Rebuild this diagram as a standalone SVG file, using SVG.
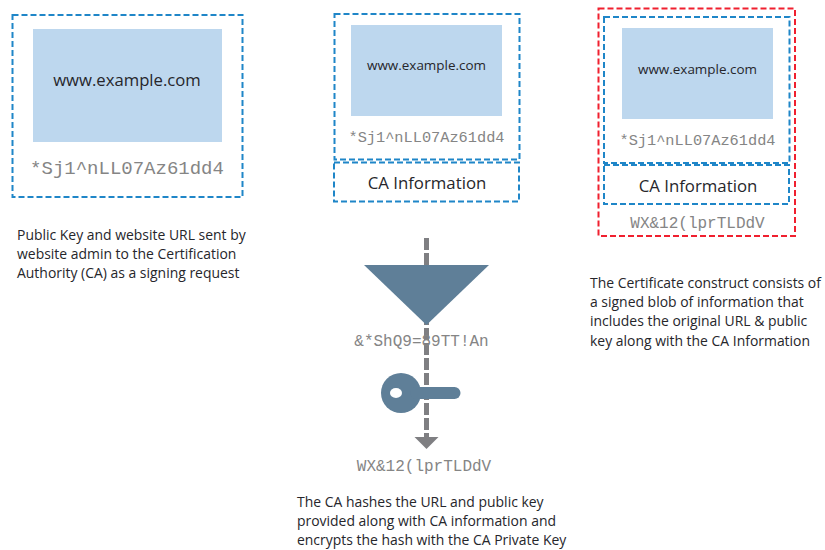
<svg xmlns="http://www.w3.org/2000/svg" width="825" height="550" viewBox="0 0 825 550">
<style>
.b{fill:none;stroke:#1f86c8;stroke-width:2;stroke-dasharray:6 3}
.r{fill:none;stroke:#f0202f;stroke-width:2;stroke-dasharray:6 3}
.f{fill:#bdd7ee}
.s{font-family:"Open Sans","Liberation Sans",sans-serif;fill:#26262b;text-anchor:middle}
.m{font-family:"Liberation Mono",monospace;fill:#858585;text-anchor:middle}
.t{font-family:"Open Sans","Liberation Sans",sans-serif;fill:#26262b;font-size:13.950px}
</style>
<defs><marker id="a" markerUnits="userSpaceOnUse" markerWidth="14" markerHeight="26" refX="1" refY="13" orient="auto"><path d="M0 1L12 13L0 25Z" fill="#7f7f82"/></marker></defs>
<g id="connectors">
<path d="M426.500 238V438" fill="none" stroke="#7f7f82" stroke-width="5" stroke-dasharray="12 3" marker-end="url(#a)"/>
</g>
<g id="request">
<rect class="b" x="12.500" y="15" width="230" height="182"/>
<rect class="f" x="33" y="29" width="189" height="113"/>
<text class="s" x="127" y="86" font-size="16.700">www.example.com</text>
<text class="m" x="127" y="174" font-size="19">*Sj1^nLL07Az61dd4</text>
</g>
<g id="request-label">
<text class="t" x="17" y="240">Public Key and website URL sent by</text>
<text class="t" x="17" y="259">website admin to the Certification</text>
<text class="t" x="17" y="278">Authority (CA) as a signing request</text>
</g>
<g id="signing-block">
<rect class="b" x="334.500" y="14" width="185" height="145.500"/>
<rect class="f" x="351" y="25" width="151" height="91"/>
<text class="s" x="426.500" y="70" font-size="13.450">www.example.com</text>
<text class="m" x="426.500" y="142" font-size="15.300">*Sj1^nLL07Az61dd4</text>
</g>
<g id="signing-ca">
<rect class="b" x="334" y="162.500" width="185" height="39"/>
<text class="s" x="427" y="188.500" font-size="16.800">CA Information</text>
</g>
<g id="hash">
<path d="M364 265H489L426.500 325Z" fill="#5f7f98"/>
<text class="m" x="421.500" y="346" font-size="16">&amp;*ShQ9=89TT!An</text>
</g>
<g id="key">
<circle cx="401" cy="393" r="20" fill="#5f7f98"/>
<ellipse cx="396" cy="393" rx="6" ry="5" fill="#fff"/>
<rect x="410" y="387" width="50.500" height="12" rx="6" fill="#5f7f98"/>
</g>
<g id="encrypted">
<text class="m" x="424" y="471" font-size="16">WX&amp;12(lprTLDdV</text>
</g>
<g id="hash-label">
<text class="t" x="297" y="507">The CA hashes the URL and public key</text>
<text class="t" x="297" y="526">provided along with CA information and</text>
<text class="t" x="297" y="545">encrypts the hash with the CA Private Key</text>
</g>
<g id="certificate">
<rect class="r" x="598.500" y="8.500" width="196.500" height="227.500"/>
<rect class="b" x="604" y="17" width="185.500" height="146"/>
<rect class="f" x="622" y="28" width="151" height="91"/>
<text class="s" x="697.500" y="74" font-size="13.450">www.example.com</text>
<text class="m" x="697.500" y="145" font-size="15.300">*Sj1^nLL07Az61dd4</text>
<rect class="b" x="604" y="165" width="185" height="39"/>
<text class="s" x="698" y="192" font-size="16.800">CA Information</text>
<text class="m" x="697.500" y="228" font-size="16">WX&amp;12(lprTLDdV</text>
</g>
<g id="certificate-label">
<text class="t" x="590" y="288">The Certificate construct consists of</text>
<text class="t" x="590" y="307">a signed blob of information that</text>
<text class="t" x="590" y="326">includes the original URL &amp; public</text>
<text class="t" x="590" y="346">key along with the CA Information</text>
</g>
</svg>
